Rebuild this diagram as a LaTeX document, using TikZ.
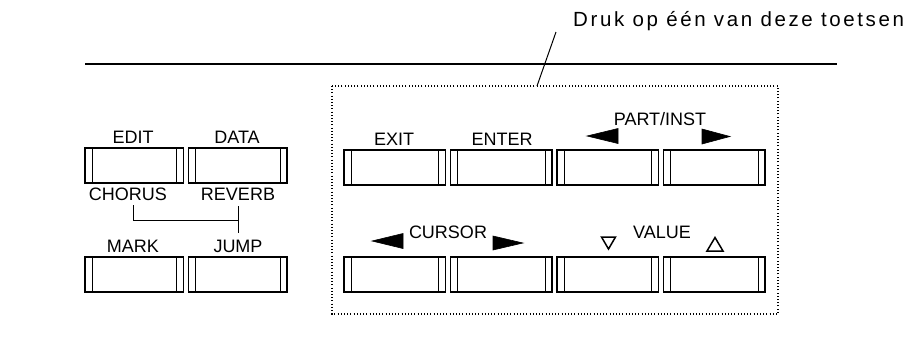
\documentclass[tikz,border=0pt]{standalone}
\usepackage{fontspec}
\setmainfont{Liberation Sans}
\newfontfamily\spacedfont[LetterSpace=12.7]{Liberation Sans}
\begin{document}
\begin{tikzpicture}[x=1pt,y=-1pt,
  keybox/.style={draw, line width=1.3pt, minimum height=35pt, inner sep=0pt,
    path picture={
      \draw[line width=0.8pt] ([xshift=7pt]path picture bounding box.north west) -- ([xshift=7pt]path picture bounding box.south west);
      \draw[line width=0.8pt] ([xshift=-7pt]path picture bounding box.north east) -- ([xshift=-7pt]path picture bounding box.south east);
    }},
  lkey/.style={keybox, minimum width=98.5pt},
  rkey/.style={keybox, minimum width=101.5pt},
  lbl/.style={anchor=base, inner sep=0pt, font=\fontsize{18}{20}\selectfont},
  conn/.style={line width=1pt},
  pennant/.style={fill=black, draw=black, line width=0.6pt},
  hollow/.style={draw=black, line width=1.5pt, line join=miter},
  dotbox/.style={line width=1.3pt, dash pattern=on 1pt off 2.2pt}
]
\useasboundingbox (0,0) rectangle (916,346);

% headline rule and caption
\draw[line width=1.4pt] (85,64) -- (837,64);
\node[anchor=base west, inner sep=0pt, font=\spacedfont\fontsize{20.5}{23}\selectfont] (caption) at (573,26) {Druk op één van deze toetsen};
\coordinate (lead) at (556,32);
\coordinate (boxtop) at (537,86);
\draw[line width=1pt] (lead) -- (boxtop);

% dotted frame round the selectable keys
\draw[dotbox] (332,86) rectangle (778,314);

% left key block
\node[lkey] (edit) at (134.25,165.5) {};
\node[lkey] (data) at (237.75,165.5) {};
\node[lkey] (mark) at (134.25,274.5) {};
\node[lkey] (jump) at (237.75,274.5) {};
\node[lbl] (ledit) at (133,143) {EDIT};
\node[lbl] (ldata) at (237,143) {DATA};
\node[lbl] (chorus) at (128,200) {CHORUS};
\node[lbl] (reverb) at (238,200) {REVERB};
\node[lbl] (lmark) at (133,252) {MARK};
\node[lbl] (ljump) at (238,252) {JUMP};
\coordinate (jn) at (238,220);
\draw[conn] ([xshift=5pt,yshift=-5pt]chorus.south) |- (jn);
\draw[conn] ([yshift=-6pt]reverb.south) -- ([yshift=6pt]ljump.north);

% right key block, upper row
\node[rkey] (exit) at (394.75,167.5) {};
\node[rkey] (enter) at (501.25,167.5) {};
\node[rkey] (partdn) at (607.75,167.5) {};
\node[rkey] (partup) at (714.25,167.5) {};
\node[lbl] (lexit) at (394,145) {EXIT};
\node[lbl] (lenter) at (502,145) {ENTER};
\node[lbl] (lpart) at (660,125) {PART/INST};
\fill[pennant] (587,136) -- (618,128.5) -- (618,143.5) -- cycle;
\fill[pennant] (730,136.5) -- (702,129) -- (702,144) -- cycle;

% right key block, lower row
\node[rkey] (curl) at (394.75,274.5) {};
\node[rkey] (curr) at (501.25,274.5) {};
\node[rkey] (valdn) at (607.75,274.5) {};
\node[rkey] (valup) at (714.25,274.5) {};
\node[lbl] (lcursor) at (448,238) {CURSOR};
\node[lbl] (lvalue) at (662,238) {VALUE};
\fill[pennant] (372,241) -- (403,233.5) -- (403,248.5) -- cycle;
\fill[pennant] (523,243) -- (493,236) -- (493,250) -- cycle;
\draw[hollow] (601.5,237) -- (615.5,237) -- (608.5,249) -- cycle;
\draw[hollow] (707,251) -- (723,251) -- (715,237.5) -- cycle;
\end{tikzpicture}
\end{document}
